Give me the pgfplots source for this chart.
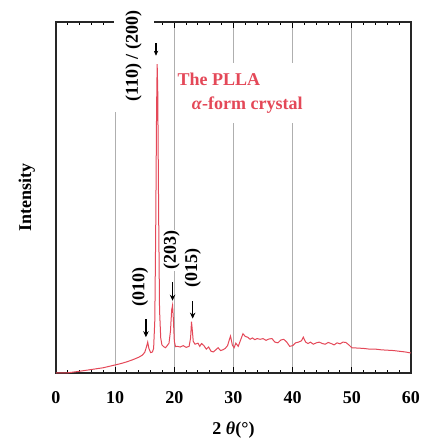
\documentclass[border=0pt]{standalone}
\usepackage{fontspec}
\setmainfont{Liberation Serif}
\usepackage{pgfplots}
\pgfplotsset{compat=1.18}
\usetikzlibrary{arrows.meta}
\definecolor{pllared}{RGB}{228,72,88}
\definecolor{gridgray}{RGB}{175,175,175}

\begin{document}
\begin{tikzpicture}
\useasboundingbox (-56bp,-66bp) rectangle (367bp,373bp);
\begin{axis}[
  at={(0,0)}, anchor=south west,
  width=355bp, height=351bp,
  scale only axis,
  xmin=0, xmax=60, ymin=0, ymax=100,
  xtick={0,10,...,60},
  minor x tick num=4,
  ytick=\empty,
  tick align=inside,
  major tick length=6bp,
  minor tick length=3.5bp,
  every tick/.style={black, line width=1bp},
  xmajorgrids,
  grid style={gridgray, line width=0.8bp},
  axis line style={black!85, line width=1.6bp},
  /pgf/number format/assume math mode=true,
  xticklabel style={font=\fontsize{18bp}{20bp}\selectfont\bfseries, yshift=-15bp},
  xlabel={2 \textit{θ}(°)},
  ylabel={Intensity},
  label style={font=\fontsize{18bp}{20bp}\selectfont\bfseries},
  xlabel style={at={(axis description cs:0.5,-0.162)}, anchor=center},
  ylabel style={at={(axis description cs:-0.082,0.5)}, anchor=center},
]
\addplot[pllared, line width=1bp] coordinates {
  (0,0) (2,0.05) (4,0.5) (6,1.0) (8,1.5) (10,2.3) (11,2.7) (12,3.2) (13,3.8)
  (14,4.5) (14.6,5.1) (15.0,5.9) (15.3,7.5) (15.5,8.8) (15.7,7.0) (16.0,5.8)
  (16.3,6.0) (16.5,7.0) (16.7,15) (16.85,40) (17.0,75) (17.1,88) (17.2,80)
  (17.35,45) (17.5,18) (17.7,10) (17.9,8) (18.2,7.5) (18.5,7.2) (18.8,7.8)
  (19.1,8.5) (19.35,12) (19.55,18) (19.7,19.3) (19.85,15) (20.0,9) (20.2,7.5)
  (20.5,7.6) (21,7.4) (21.5,7.8) (22,7.3) (22.5,7.6) (22.75,10) (22.9,14.6)
  (23.05,12) (23.2,9) (23.5,8.2) (24,8.5) (24.3,7.6) (24.6,8.4) (25,7.8)
  (25.4,6.8) (25.8,7.4) (26.2,6.2) (26.6,6.0) (27,6.6) (27.4,7.2) (27.8,6.4)
  (28.2,6.6) (28.6,7.0) (29,7.8) (29.3,9.5) (29.5,10.5) (29.8,8.0) (30.1,7.2)
  (30.4,8.5) (30.8,7.6) (31.2,9.4) (31.6,11.2) (32.0,10.4) (32.4,10.2)
  (32.8,9.6) (33.2,10.0) (33.6,9.5) (34,9.8) (34.5,9.6) (35,9.8) (35.5,9.3)
  (36,9.7) (36.5,9.8) (37,8.8) (37.5,8.6) (38,9.4) (38.5,9.6) (39,8.8)
  (39.5,7.6) (40,7.8) (40.5,8.6) (41,8.8) (41.5,9.2) (41.8,10.2) (42.2,8.8)
  (42.6,8.4) (43,8.8) (43.5,8.2) (44,8.6) (44.5,8.8) (45,8.4) (45.5,8.2)
  (46,8.7) (46.5,8.4) (47,8.0) (47.5,8.6) (48,8.3) (48.5,8.8) (49,8.7)
  (49.5,8.0) (50,7.2) (51,7.1) (52,7.0) (53,6.8) (54,6.8) (55,6.6) (56,6.5)
  (57,6.4) (58,6.2) (59,6.0) (60,5.7)
};
\coordinate (l110) at (axis cs:13.1,90.3);
\coordinate (l010) at (axis cs:14.2,24.4);
\coordinate (l203) at (axis cs:19.55,35);
\coordinate (l015) at (axis cs:23.1,29.8);
\coordinate (ltit) at (axis cs:20.0,88.5);
\draw[-{Stealth[length=5bp,width=4.5bp]}, line width=1.2bp] (axis cs:16.9,94) -- (axis cs:16.9,90.4);
\draw[-{Stealth[length=6bp,width=5.5bp]}, line width=1.2bp] (axis cs:15.2,15.3) -- (axis cs:15.2,10.2);
\draw[-{Stealth[length=6bp,width=5.5bp]}, line width=1.2bp] (axis cs:19.7,25.8) -- (axis cs:19.7,20.6);
\draw[-{Stealth[length=6bp,width=5.5bp]}, line width=1.2bp] (axis cs:23.1,20.4) -- (axis cs:23.1,15.5);
\end{axis}
\begin{scope}[every node/.style={font=\fontsize{18bp}{21bp}\selectfont\bfseries}]
\node[rotate=90, fill=white, inner sep=0pt, minimum height=40bp, minimum width=112bp] at (l110) {(110) / (200)};
\node[rotate=90, fill=white, inner sep=1bp] at (l010) {(010)};
\node[rotate=90, fill=white, inner sep=1bp] at (l203) {(203)};
\node[rotate=90, fill=white, inner sep=1bp] at (l015) {(015)};
\node[anchor=north west, fill=white, inner xsep=3bp, inner ysep=10bp, align=left, text=pllared,
  font=\fontsize{18bp}{24bp}\selectfont\bfseries] at (ltit)
  {The PLLA\\\hspace{0.8em}\textit{α}-form crystal};
\end{scope}
\end{tikzpicture}
\end{document}
